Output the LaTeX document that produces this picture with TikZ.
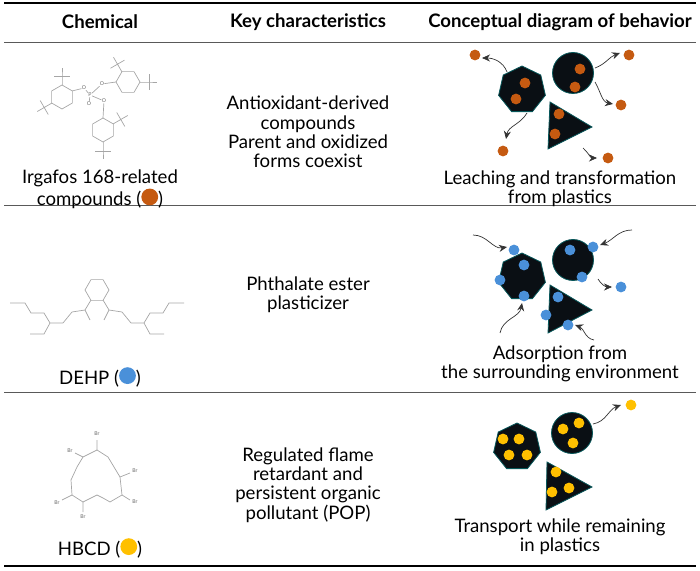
\documentclass[tikz,border=0pt]{standalone}
\usepackage{fontspec}
\setmainfont{Lato}
\usetikzlibrary{arrows.meta,shapes.geometric}
\definecolor{irgC}{HTML}{C55A11}
\definecolor{dehpC}{HTML}{4A90D9}
\definecolor{hbcdC}{HTML}{FFC000}
\definecolor{plast}{HTML}{0A0F14}
\tikzset{
  txt/.style={font=\fontsize{9.3}{9.6}\selectfont, align=center, inner sep=0pt},
  hdr/.style={txt, font=\fontsize{9.3}{9.6}\selectfont\bfseries},
  rule/.style={line width=0.5pt, gray!70!black},
  bond/.style={gray!70, line width=0.35pt},
  atom/.style={font=\fontsize{2.6}{3}\selectfont, text=gray!80!black, inner sep=0pt},
  hepta/.style={regular polygon, regular polygon sides=7, minimum size=24pt, fill=plast, draw=plast!70!cyan, inner sep=0pt},
  disc/.style={circle, minimum size=20.5pt, fill=plast, draw=plast!70!cyan, inner sep=0pt},
  tri/.style={fill=plast, draw=plast!70!cyan},
  dot/.style={circle, fill=#1, minimum size=5.4pt, inner sep=0pt},
  flow/.style={-{Stealth[length=4pt,width=3.5pt]}, line width=0.35pt, black!80},
}
\newcommand{\ring}[3]{% centre x, centre y, rotation
  \draw[bond] (#1,#2) +(#3:12) -- +(#3+60:12) -- +(#3+120:12) -- +(#3+180:12) -- +(#3+240:12) -- +(#3+300:12) -- cycle;}
\newcommand{\tbu}[3]{% attach point x, y, screen direction
  \draw[bond] (#1,#2) -- ++(-#3:9) coordinate (q) -- ++(-#3:8) (q) -- ++(-#3+90:8) (q) -- ++(-#3-90:8);}
\begin{document}
\begin{tikzpicture}[x=0.5pt,y=-0.5pt]
\useasboundingbox (0,0) rectangle (700,571);
% table rules
\draw[line width=1.2pt] (4,3) -- (696,3);
\draw[rule] (4,43) -- (696,43);
\draw[rule] (4,206) -- (696,206);
\draw[rule] (4,392) -- (696,392);
\draw[line width=1.2pt] (4,566) -- (696,566);
% header
\node[hdr] (hchem) at (100,22) {Chemical};
\node[hdr] (hkey) at (308,22) {Key characteristics};
\node[hdr] (hconc) at (560,22) {Conceptual diagram of behavior};

% row 1: Irgafos 168
\node[atom] (P) at (90,95) {P};
\node[atom] (O1) at (84,88) {O}; \node[atom] (O2) at (102,84) {O};
\node[atom] (O3) at (104,101) {O}; \node[atom] (O4) at (89,104) {O};
\draw[bond] (P) -- (O1) (P) -- (O2) (P) -- (O3) (P) -- (O4);
\ring{62}{97}{90} \ring{128}{82}{0} \ring{103}{130}{90}
\draw[bond] (O1) -- (72,91) (O2) -- (116,82) (O3) -- (103,118);
\tbu{62}{85}{90} \tbu{52}{103}{210} \tbu{140}{82}{0} \tbu{122}{72}{120}
\tbu{103}{142}{270} \tbu{113}{124}{30}
\node[txt] (irg) at (100,189) {Irgafos 168-related\\compounds (\tikz\fill[irgC] (0,0) circle (4.2pt);)};
\node[txt] (irgkey) at (308,132) {Antioxidant-derived\\compounds\\Parent and oxidized\\forms coexist};
\node[hepta] (h1) at (522,90) {};
\node[disc] (c1) at (573,73) {};
\fill[tri] (550,102) -- (592,127) -- (548,149) -- cycle;
\foreach \p [count=\i] in {(525,83),(516,99),(580,69),(575,87),(559,114),(555,134),(475,55),(629,55),(621,105),(503,151),(608,158)}
  \node[dot=irgC] (ia\i) at \p {};
\coordinate (i1s) at (507,72); \coordinate (i1e) at (482,58);
\coordinate (i2s) at (595,68); \coordinate (i2e) at (620,53);
\coordinate (i3s) at (595,82); \coordinate (i3e) at (613,104);
\coordinate (i4s) at (527,113); \coordinate (i4e) at (506,139);
\coordinate (i5s) at (583,148); \coordinate (i5e) at (597,158);
\draw[flow] (i1s) to[out=110,in=0] (i1e);
\draw[flow] (i2s) to[out=20,in=200] (i2e);
\draw[flow] (i3s) to[out=-60,in=170] (i3e);
\draw[flow] (i4s) to[out=240,in=80] (i4e);
\draw[flow] (i5s) to[out=-40,in=180] (i5e);
\node[txt] (irgconc) at (560,189) {Leaching and transformation\\from plastics};

% row 2: DEHP
\ring{97}{290}{0}
\draw[bond] (91,300) -- (85,310) -- (90,320) (85,310) -- (72,312) -- (63,323) -- (50,323) -- (44,313) -- (31,313) -- (25,303) -- (10,303)
  (50,323) -- (44,334) -- (30,334);
\draw[bond] (103,300) -- (109,310) -- (104,320) (109,310) -- (122,312) -- (131,323) -- (144,323) -- (150,313) -- (163,313) -- (169,303) -- (184,303)
  (144,323) -- (150,334) -- (164,334);
\node[txt] (dehp) at (100,377) {DEHP (\tikz\fill[dehpC] (0,0) circle (4.2pt);)};
\node[txt] (dehpkey) at (308,295) {Phthalate ester\\plasticizer};
\node[hepta] (h2) at (522,277) {};
\node[disc] (c2) at (573,260) {};
\fill[tri] (550,285) -- (592,310) -- (548,333) -- cycle;
\foreach \p [count=\i] in {(514,250),(524,265),(500,280),(524,296),(593,247),(570,250),(582,277),(621,287),(558,297),(546,315),(568,325)}
  \node[dot=dehpC] (da\i) at \p {};
\coordinate (d1s) at (473,235); \coordinate (d1e) at (507,247);
\coordinate (d2s) at (632,230); \coordinate (d2e) at (600,245);
\coordinate (d3s) at (500,333); \coordinate (d3e) at (522,303);
\coordinate (d4s) at (594,340); \coordinate (d4e) at (575,325);
\coordinate (d5s) at (598,279); \coordinate (d5e) at (612,287);
\draw[flow] (d1s) to[out=0,in=190] (d1e);
\draw[flow] (d2s) to[out=180,in=20] (d2e);
\draw[flow] (d3s) to[out=80,in=260] (d3e);
\draw[flow] (d4s) to[out=170,in=-20] (d4e);
\draw[flow] (d5s) to[out=-60,in=180] (d5e);
\node[txt] (dehpconc) at (560,364) {Adsorption from\\the surrounding environment};

% row 3: HBCD
\draw[bond] (97,450) -- (108,457) -- (114,467) -- (120,477) -- (122,495) -- (110,502) -- (103,498) -- (97,495) -- (83,502) -- (72,495) -- (71,480) -- (77,467) -- (83,457) -- cycle;
\draw[bond] (97,450) -- (97,440) (83,457) -- (75,453) (120,477) -- (130,473) (122,495) -- (130,500) (72,495) -- (62,500) (83,502) -- (83,512);
\foreach \p [count=\i] in {(97,434),(70,451),(135,471),(135,502),(57,503),(83,517)}
  \node[atom] (br\i) at \p {Br};
\node[txt] (hbcd) at (100,548) {HBCD (\tikz\fill[hbcdC] (0,0) circle (4.2pt);)};
\node[txt] (hbcdkey) at (308,485) {Regulated flame\\retardant and\\persistent organic\\pollutant (POP)};
\node[hepta] (h3) at (517,447) {};
\node[disc] (c3) at (572,433) {};
\fill[tri] (547,462) -- (592,487) -- (546,510) -- cycle;
\foreach \p [count=\i] in {(503,439),(519,439),(509,455),(527,455),(563,429),(579,423),(573,443),(556,472),(552,492),(569,488),(631,405)}
  \node[dot=hbcdC] (ha\i) at \p {};
\coordinate (h1s) at (593,424); \coordinate (h1e) at (621,405);
\draw[flow] (h1s) to[out=10,in=200] (h1e);
\node[txt] (hbcdconc) at (560,537) {Transport while remaining\\in plastics};
\end{tikzpicture}
\end{document}
